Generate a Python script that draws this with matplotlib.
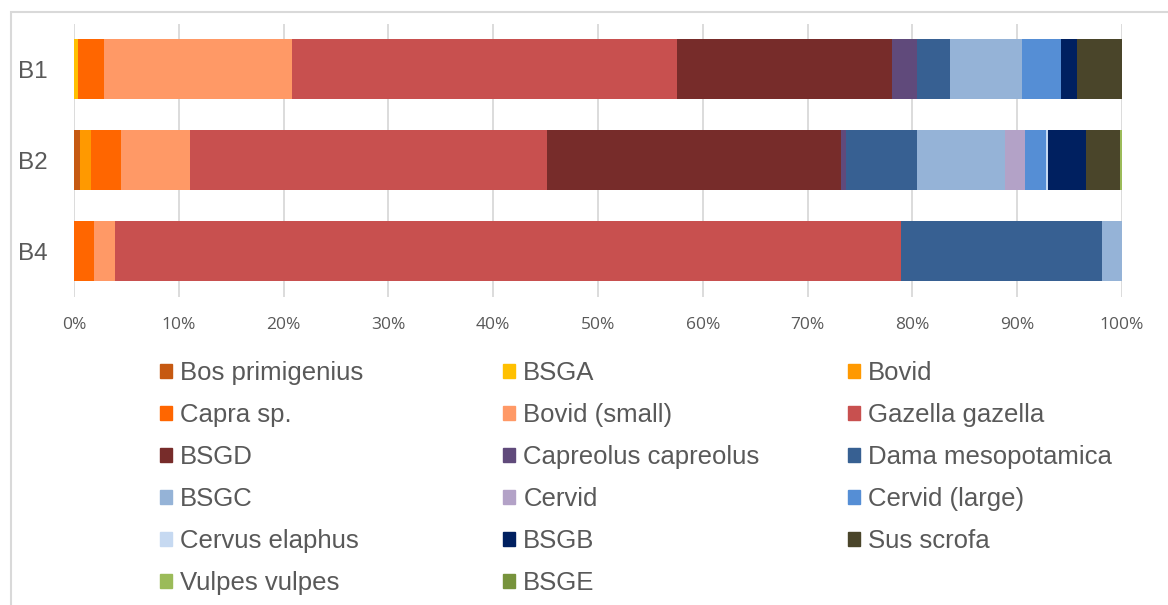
import matplotlib
matplotlib.use('Agg')
import matplotlib.pyplot as plt
from matplotlib.patches import Rectangle, Patch
from matplotlib.ticker import PercentFormatter

# sites (top to bottom) and taxa in stacking order
sites = ['B1', 'B2', 'B4']
taxa = ['Bos primigenius', 'BSGA', 'Bovid', 'Capra sp.', 'Bovid (small)',
        'Gazella gazella', 'BSGD', 'Capreolus capreolus', 'Dama mesopotamica',
        'BSGC', 'Cervid', 'Cervid (large)', 'Cervus elaphus', 'BSGB',
        'Sus scrofa', 'Vulpes vulpes', 'BSGE']
colors = ['#C65911', '#FFC000', '#FF9900', '#FF6600', '#FF9966',
          '#C8504F', '#772C2A', '#604A7B', '#376092',
          '#95B3D7', '#B3A2C7', '#558ED5', '#C6D9F1', '#002060',
          '#4A452A', '#9BBB59', '#77933C']

# percentage of each taxon per site
b1 = [0, 0.35, 0, 2.48, 18.0, 36.68, 20.52, 2.44, 3.12, 6.84, 0, 3.72, 0, 1.53, 4.32, 0, 0]
b2 = [0.6, 0, 0.99, 2.92, 6.56, 34.04, 28.08, 0.48, 6.8, 8.4, 1.91, 1.98, 0.22, 3.57, 3.27, 0.19, 0]
b4 = [0, 0, 0, 1.94, 1.94, 75.0, 0, 0, 19.18, 1.94, 0, 0, 0, 0, 0, 0, 0]
values = [b1, b2, b4]

grey = '#595959'
fig = plt.figure(figsize=(11.68, 6.05), dpi=100)
ax = fig.add_axes([74/1168, 1-296.5/605, (1122-74)/1168, (296.5-23.5)/605])

left = [0.0] * len(sites)
for k, name in enumerate(taxa):
    w = [v[k] for v in values]
    ax.barh(sites, w, left=left, height=0.66, color=colors[k], label=name, zorder=2)
    left = [a + b for a, b in zip(left, w)]

ax.set_xlim(0, 100)
ax.set_ylim(-0.5, 2.5)
ax.invert_yaxis()
ax.set_xticks(range(0, 101, 10))
ax.xaxis.set_major_formatter(PercentFormatter(decimals=0))
ax.grid(axis='x', color='#D9D9D9', lw=1.3, zorder=0)
for s in ax.spines.values():
    s.set_visible(False)
ax.tick_params(axis='both', length=0)
ax.tick_params(axis='x', pad=15, labelsize=12.5, labelcolor=grey)
ax.tick_params(axis='y', pad=19, labelsize=17.5, labelcolor=grey)
for t in ax.get_xticklabels():
    t.set_fontfamily('Open Sans')
for t in ax.get_yticklabels():
    t.set_fontfamily('Liberation Sans')

# legend laid out row by row in three columns
handles = [Patch(color=c) for c in colors]
col_x = [160, 503, 848]
for c in range(3):
    idx = list(range(c, len(taxa), 3))
    fig.legend([handles[i] for i in idx], [taxa[i] for i in idx],
               loc='upper left', bbox_to_anchor=(col_x[c]/1168, 1-361/605),
               frameon=False, borderpad=0, borderaxespad=0,
               handlelength=0.47, handleheight=0.47, handletextpad=0.32,
               labelspacing=0.7, labelcolor=grey,
               prop={'family': 'Liberation Sans', 'size': 18.5})

# chart area frame
fig.patches.append(Rectangle((11/1168, -0.1), 1.1, 1.1 - 12/605,
                             transform=fig.transFigure, fill=False,
                             edgecolor='#D9D9D9', lw=1.5))

fig.savefig('out.png', dpi=100, facecolor='white')
